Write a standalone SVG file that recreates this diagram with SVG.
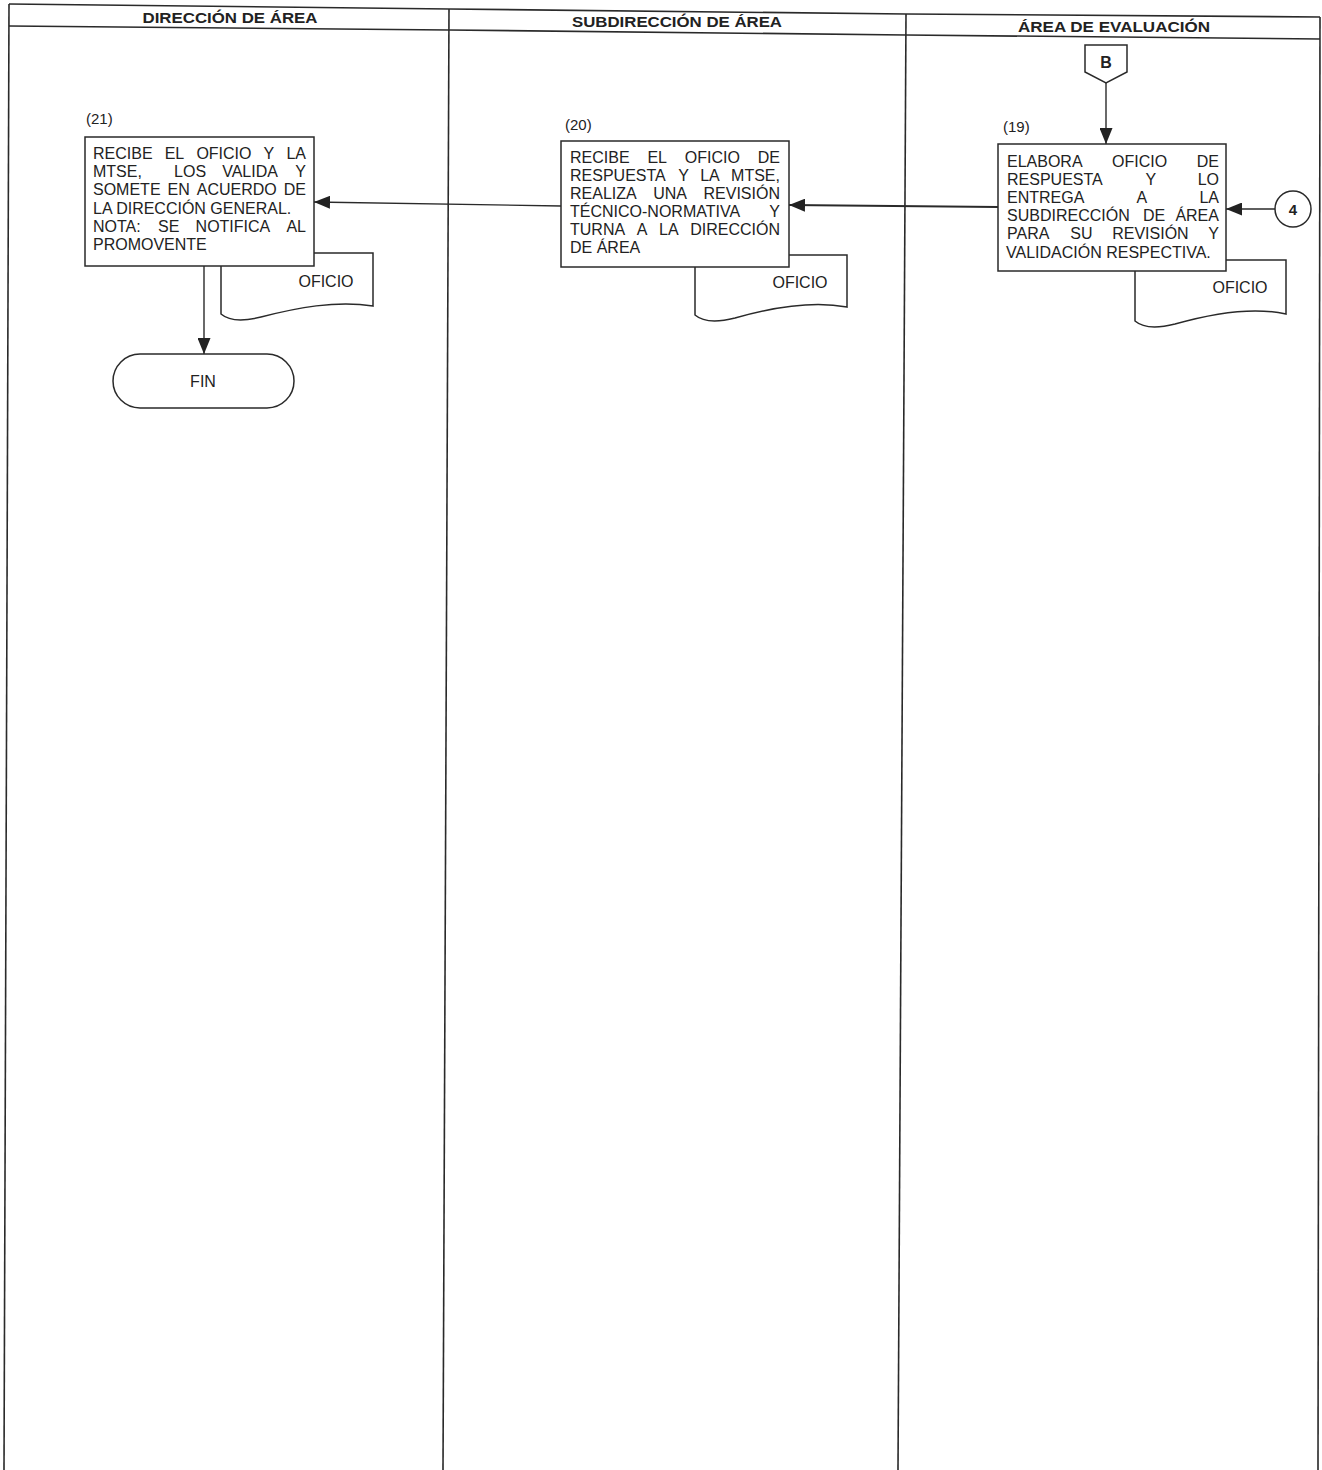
<svg xmlns="http://www.w3.org/2000/svg" width="1322" height="1470" viewBox="0 0 1322 1470">
<style>
.ln{fill:none;stroke:#2a2a2a;stroke-width:1.6}
.bx{fill:#fff;stroke:#2a2a2a;stroke-width:1.5}
.cn{fill:none;stroke:#2a2a2a;stroke-width:1.4}
.t{font-family:"Liberation Sans",Arial,sans-serif;font-size:16px;fill:#222}
.s{font-family:"Liberation Sans",Arial,sans-serif;font-size:15px;fill:#222}
.h{font-family:"Liberation Sans",Arial,sans-serif;font-weight:bold;font-size:15px;fill:#222;text-anchor:middle}
.c{text-anchor:middle}
.b{font-weight:bold}
</style>
<defs>
<marker id="ah" markerWidth="16" markerHeight="13" refX="16" refY="6.5" orient="auto" markerUnits="userSpaceOnUse">
<path d="M0,0 L16,6.5 L0,13 Z" fill="#222"/>
</marker>
</defs>
<g id="lanes">
<polyline class="ln" points="9,4 449,9 906,14 1320,17"/>
<polyline class="ln" points="9,26 449,30 906,35 1320,39"/>
<line class="ln" x1="9" y1="4" x2="4" y2="1470"/>
<line class="ln" x1="449" y1="9" x2="443" y2="1470"/>
<line class="ln" x1="906" y1="14" x2="898" y2="1470"/>
<line class="ln" x1="1320" y1="17" x2="1318" y2="1470"/>
<text class="h" x="230" y="23" textLength="175" lengthAdjust="spacingAndGlyphs">DIRECCIÓN DE ÁREA</text>
<text class="h" x="677" y="27" textLength="210" lengthAdjust="spacingAndGlyphs">SUBDIRECCIÓN DE ÁREA</text>
<text class="h" x="1114" y="32" textLength="192" lengthAdjust="spacingAndGlyphs">ÁREA DE EVALUACIÓN</text>
</g>
<g id="connectors">
<line class="cn" x1="1106" y1="83" x2="1106" y2="144" marker-end="url(#ah)"/>
<line class="cn" x1="1275" y1="209" x2="1226" y2="209" marker-end="url(#ah)"/>
<line class="cn" x1="998" y1="207" x2="789" y2="205" marker-end="url(#ah)" style="stroke-width:2"/>
<line class="cn" x1="561" y1="206" x2="314" y2="202" marker-end="url(#ah)"/>
<line class="cn" x1="204" y1="266" x2="204" y2="354" marker-end="url(#ah)"/>
</g>
<g id="conn-B">
<path class="bx" d="M1085,45 H1127 V72 L1106,83 L1085,72 Z"/>
<text class="t c b" x="1106" y="68" style="font-size:16px">B</text>
</g>
<g id="conn-4">
<circle class="bx" cx="1293" cy="209" r="18"/>
<text class="t c b" x="1293" y="214.5" style="font-size:15px">4</text>
</g>
<g id="doc-19">
<path class="bx" d="M1135,260 H1286 V314 C1250,306 1210,314 1175,324 C1155,329 1142,327 1135,321 Z"/>
<text class="t c" x="1240" y="293">OFICIO</text>
</g>
<g id="step-19">
<text class="s" x="1003" y="132">(19)</text>
<rect class="bx" x="998" y="144" width="228" height="127"/>
<text class="t" y="167"><tspan x="1007">ELABORA</tspan><tspan x="1112.1">OFICIO</tspan><tspan x="1196.8">DE</tspan></text>
<text class="t" y="185"><tspan x="1007">RESPUESTA</tspan><tspan x="1145.4">Y</tspan><tspan x="1197.7">LO</tspan></text>
<text class="t" y="203"><tspan x="1007">ENTREGA</tspan><tspan x="1136.5">A</tspan><tspan x="1199.4">LA</tspan></text>
<text class="t" y="221"><tspan x="1007">SUBDIRECCIÓN</tspan><tspan x="1143">DE</tspan><tspan x="1175.4">ÁREA</tspan></text>
<text class="t" y="239"><tspan x="1007">PARA</tspan><tspan x="1070.3">SU</tspan><tspan x="1112.2">REVISIÓN</tspan><tspan x="1208.3">Y</tspan></text>
<text class="t" x="1006" y="258">VALIDACIÓN RESPECTIVA.</text>
</g>
<g id="doc-20">
<path class="bx" d="M695,255 H847 V307 C810,300 770,308 735,318 C715,323 702,321 695,315 Z"/>
<text class="t c" x="800" y="288">OFICIO</text>
</g>
<g id="step-20">
<text class="s" x="565" y="130">(20)</text>
<rect class="bx" x="561" y="141" width="228" height="126"/>
<text class="t" y="163"><tspan x="570">RECIBE</tspan><tspan x="647.4">EL</tspan><tspan x="684.8">OFICIO</tspan><tspan x="757.8">DE</tspan></text>
<text class="t" y="181"><tspan x="570">RESPUESTA</tspan><tspan x="678.2">Y</tspan><tspan x="700.2">LA</tspan><tspan x="731.1">MTSE,</tspan></text>
<text class="t" y="199"><tspan x="570">REALIZA</tspan><tspan x="653.2">UNA</tspan><tspan x="703.5">REVISIÓN</tspan></text>
<text class="t" y="217"><tspan x="570">TÉCNICO-NORMATIVA</tspan><tspan x="769.3">Y</tspan></text>
<text class="t" y="235"><tspan x="570">TURNA</tspan><tspan x="636.7">A</tspan><tspan x="659">LA</tspan><tspan x="690.2">DIRECCIÓN</tspan></text>
<text class="t" x="570" y="253">DE ÁREA</text>
</g>
<g id="doc-21">
<path class="bx" d="M221,253 H373 V306 C336,300 296,308 261,317 C241,322 228,320 221,314 Z"/>
<text class="t c" x="326" y="287">OFICIO</text>
</g>
<g id="step-21">
<text class="s" x="86" y="124">(21)</text>
<rect class="bx" x="85" y="137" width="229" height="129"/>
<text class="t" y="159"><tspan x="93">RECIBE</tspan><tspan x="164.7">EL</tspan><tspan x="196.4">OFICIO</tspan><tspan x="263.6">Y</tspan><tspan x="286.4">LA</tspan></text>
<text class="t" y="177"><tspan x="93">MTSE,</tspan><tspan x="174.1">LOS</tspan><tspan x="222.2">VALIDA</tspan><tspan x="295.3">Y</tspan></text>
<text class="t" y="195"><tspan x="93">SOMETE</tspan><tspan x="167.6">EN</tspan><tspan x="196.8">ACUERDO</tspan><tspan x="283.8">DE</tspan></text>
<text class="t" x="93" y="214">LA DIRECCIÓN GENERAL.</text>
<text class="t" y="232"><tspan x="93">NOTA:</tspan><tspan x="158.1">SE</tspan><tspan x="195.6">NOTIFICA</tspan><tspan x="286.4">AL</tspan></text>
<text class="t" x="93" y="250">PROMOVENTE</text>
</g>
<g id="fin">
<rect class="bx" x="113" y="354" width="181" height="54" rx="27" ry="27"/>
<text class="t c" x="203" y="387">FIN</text>
</g>
</svg>
